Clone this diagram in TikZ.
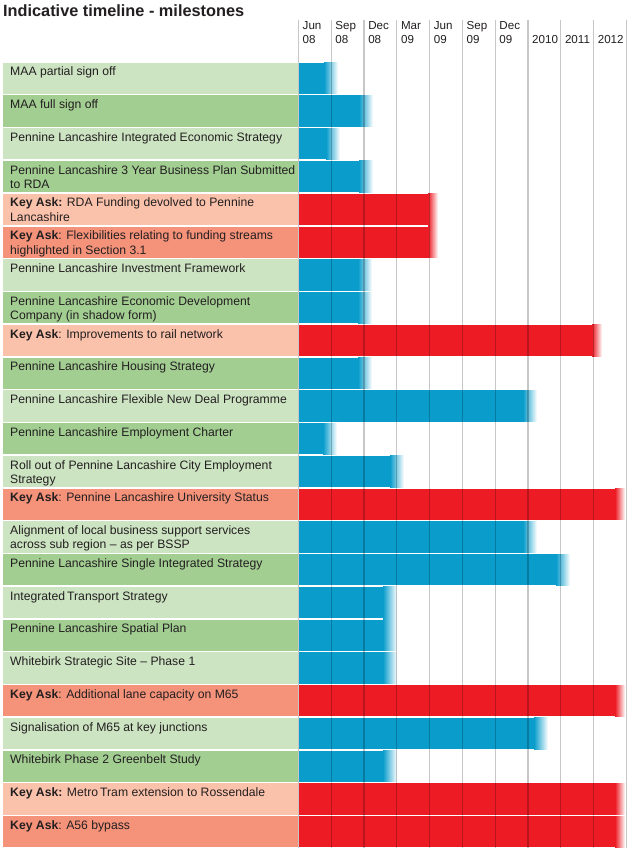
\documentclass[tikz,border=0pt]{standalone}
\usepackage{fontspec}
\setmainfont{Liberation Sans}
\definecolor{lgreen}{HTML}{CCE4C2}
\definecolor{dgreen}{HTML}{A2CE92}
\definecolor{lsalmon}{HTML}{FBC2AB}
\definecolor{dsalmon}{HTML}{F5927A}
\definecolor{barblue}{HTML}{0A9DCC}
\definecolor{barred}{HTML}{ED1C24}
\definecolor{txt}{HTML}{231F20}
\newcommand{\toplines}[2]{\parbox[t]{#1}{\raggedright #2}}
\begin{document}
\begin{tikzpicture}[x=1pt,y=-1pt,
  lab/.style={anchor=base west, inner sep=0pt, font=\fontsize{12.2}{14.4}\selectfont, text=txt},
  hdr/.style={anchor=base west, inner sep=0pt, font=\fontsize{11.6}{14}\selectfont, text=txt},
  gridline/.style={line width=1.2pt, black, opacity=0.22}]
\useasboundingbox[fill=white] (0,0) rectangle (636,850);
\node[anchor=base west, inner sep=0pt, font=\bfseries\fontsize{16.3}{19}\selectfont, text=txt] (title) at (3,17) {Indicative timeline - milestones};
\foreach \i/\bg/\bc/\fd/\e/\t in {
1/lgreen/barblue/14/338/{MAA partial sign off},
2/dgreen/barblue/14/373/{MAA full sign off},
3/lgreen/barblue/14/340/{Pennine Lancashire Integrated Economic Strategy},
4/dgreen/barblue/14/373/{Pennine Lancashire 3 Year Business Plan Submitted\\to RDA},
5/lsalmon/barred/10/438/{\textbf{Key Ask:} RDA Funding devolved to Pennine\\Lancashire},
6/dsalmon/barred/10/438/{\textbf{Key Ask}: Flexibilities relating to funding streams\\highlighted in Section 3.1},
7/lgreen/barblue/14/372/{Pennine Lancashire Investment Framework},
8/dgreen/barblue/14/372/{Pennine Lancashire Economic Development\\Company (in shadow form)},
9/lsalmon/barred/10/602/{\textbf{Key Ask}: Improvements to rail network},
10/dgreen/barblue/14/372/{Pennine Lancashire Housing Strategy},
11/lgreen/barblue/14/537/{Pennine Lancashire Flexible New Deal Programme},
12/dgreen/barblue/14/337/{Pennine Lancashire Employment Charter},
13/lgreen/barblue/14/404/{Roll out of Pennine Lancashire City Employment\\Strategy},
14/dsalmon/barred/10/625/{\textbf{Key Ask}: Pennine Lancashire University Status},
15/lgreen/barblue/14/537/{Alignment of local business support services\\across sub region -- as per BSSP},
16/dgreen/barblue/14/570/{Pennine Lancashire Single Integrated Strategy},
17/lgreen/barblue/14/397/{Integrated\,Transport Strategy},
18/dgreen/barblue/14/397/{Pennine Lancashire Spatial Plan},
19/lgreen/barblue/14/397/{Whitebirk Strategic Site -- Phase 1},
20/dsalmon/barred/10/625/{\textbf{Key Ask}: Additional lane capacity on M65},
21/lgreen/barblue/14/548/{Signalisation of M65 at key junctions},
22/dgreen/barblue/14/397/{Whitebirk Phase 2 Greenbelt Study},
23/lsalmon/barred/10/625/{\textbf{Key Ask:} Metro\,Tram extension to Rossendale},
24/dsalmon/barred/10/625/{\textbf{Key Ask}: A56 bypass}}
{
  \pgfmathsetmacro\tp{62+(\i-1)*32.75}
  \fill[\bg] (3,\tp+0.75) rectangle (298,\tp+32);
  \fill[\bc] (299,\tp+0.75) rectangle (\e-\fd+0.2,\tp+32);
  \shade[left color=\bc, right color=white] (\e-\fd,\tp+0.75) rectangle (\e,\tp+32);
  \node[lab] (r\i) at (10,\tp+14) {\toplines{286pt}{\t}};
}
\foreach \k in {0,...,10}
  \draw[gridline] (298.5+\k*32.79,20) -- (298.5+\k*32.79,848);
\foreach \k/\a/\b in {0/Jun/08,1/Sep/08,2/Dec/08,3/Mar/09,4/Jun/09,5/Sep/09,6/Dec/09}
  \node[hdr] (h\k) at (302.5+\k*32.79,30) {\toplines{30pt}{\a\\\b}};
\foreach \k/\a in {7/2010,8/2011,9/2012}
  \node[hdr] (h\k) at (302.5+\k*32.79,44) {\a};
\end{tikzpicture}
\end{document}
